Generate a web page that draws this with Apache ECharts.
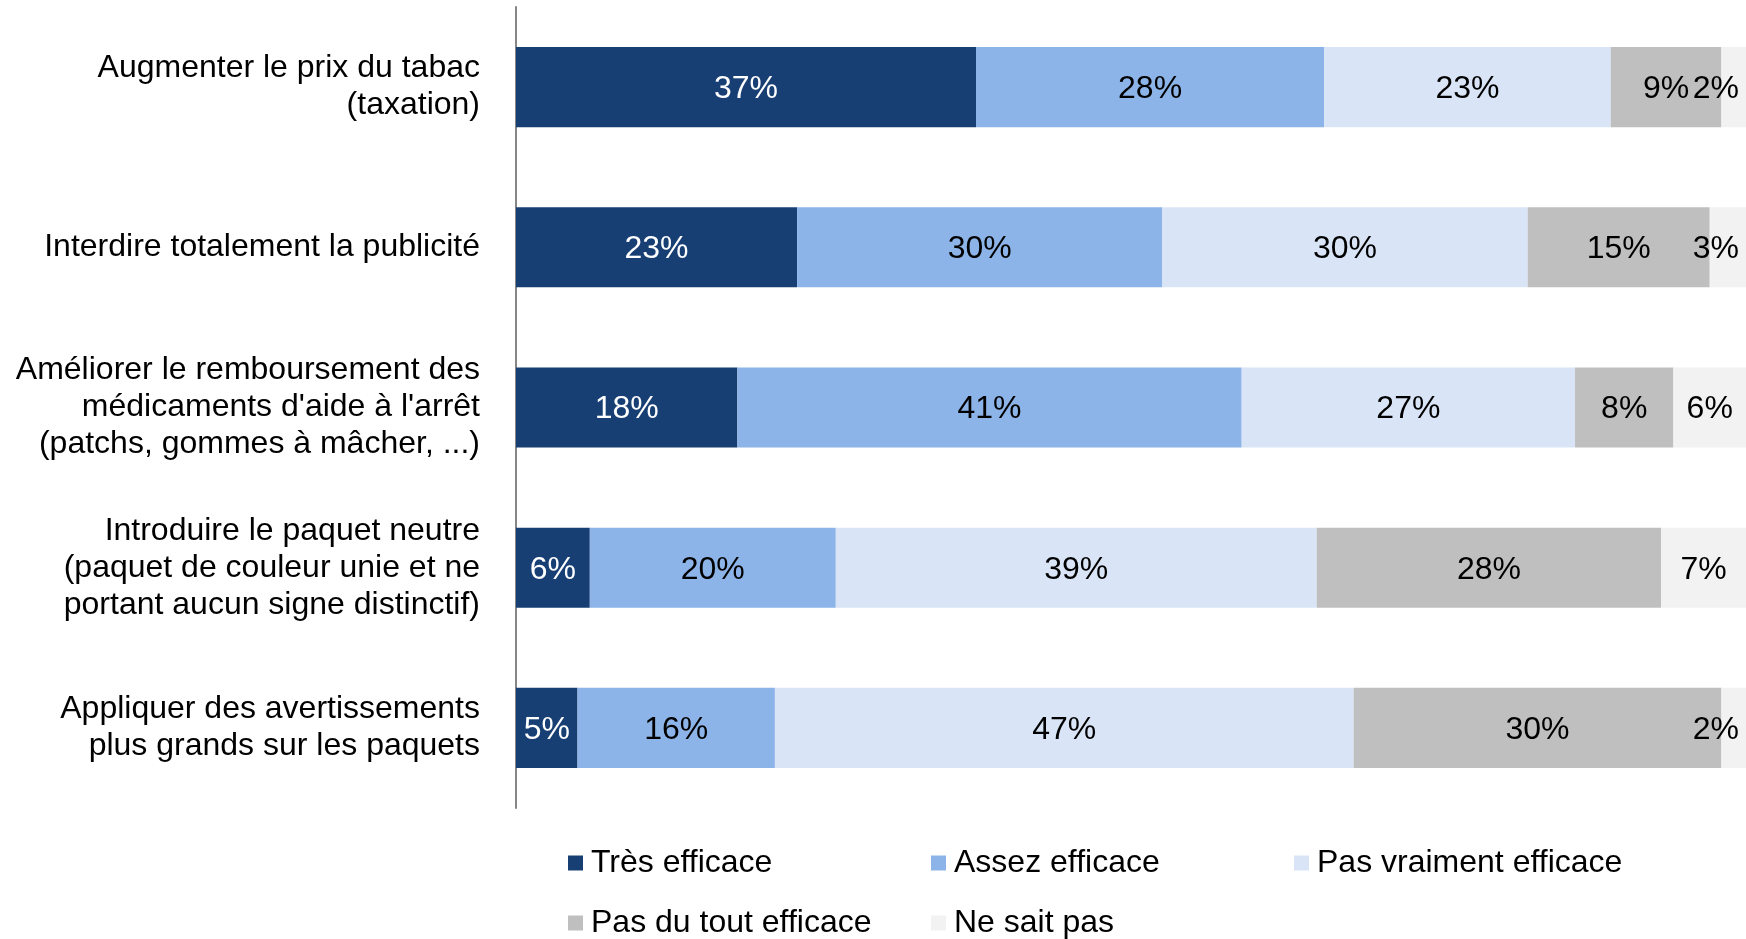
<!DOCTYPE html>
<html>
<head>
    <meta charset="utf-8">
    <title>Efficacité des mesures</title>
    <script src="https://cdn.jsdelivr.net/npm/echarts@6/dist/echarts.min.js"></script>
    <style>
        html, body { margin: 0; padding: 0; background: #fff; }
        #chart { width: 1746px; height: 939px; }
    </style>
</head>
<body>
<div id="chart"></div>
<script type="text/javascript">
    // categories (du haut vers le bas)
    var mesures = [
        'Augmenter le prix du tabac\n(taxation)',
        'Interdire totalement la publicité',
        'Améliorer le remboursement des\nmédicaments d\'aide à l\'arrêt\n(patchs, gommes à mâcher, ...)',
        'Introduire le paquet neutre\n(paquet de couleur unie et ne\nportant aucun signe distinctif)',
        'Appliquer des avertissements\nplus grands sur les paquets'
    ];

    // valeurs (%)
    var tresEfficace = [37.4, 22.85, 18.0, 6.0, 5.0];
    var assezEfficace = [28.3, 29.7, 41.0, 20.0, 16.05];
    var pasVraiment = [23.3, 29.7, 27.1, 39.1, 47.05];
    var pasDuTout = [9.0, 14.8, 8.0, 28.0, 29.9];
    var neSaitPas = [2.0, 2.95, 5.9, 6.9, 2.0];

    var noms = ['Très efficace', 'Assez efficace', 'Pas vraiment efficace', 'Pas du tout efficace', 'Ne sait pas'];
    var couleurs = ['#173f74', '#8db4e8', '#d9e5f6', '#bfbfbf', '#f2f2f2'];

    var police = 'Liberation Sans, Arial, sans-serif';

    function serie(nom, valeurs, couleur, couleurTexte) {
        return {
            name: nom,
            type: 'bar',
            stack: 'total',
            barWidth: '50%',
            itemStyle: { color: couleur },
            label: {
                show: true,
                position: 'inside',
                offset: [0, 2],
                color: couleurTexte,
                fontFamily: police,
                fontSize: 32,
                formatter: function (p) { return Math.round(p.value) + '%'; }
            },
            // les petites valeurs en bout de barre sont calées à droite
            data: valeurs.map(function (v) {
                if (v < 4) {
                    return { value: v, label: { position: 'insideRight', distance: 7 } };
                }
                return v;
            })
        };
    }

    // une légende par élément pour garder les colonnes alignées
    var colonnes = [568, 931, 1294, 568, 931];
    var lignes = [847, 847, 847, 907, 907];
    var legendes = noms.map(function (nom, i) {
        return {
            data: [nom],
            left: colonnes[i],
            top: lignes[i],
            padding: 0,
            itemWidth: 15,
            itemHeight: 15,
            icon: 'rect',
            textStyle: { fontFamily: police, fontSize: 32, color: '#000', padding: [0, 0, 0, 3] }
        };
    });

    var myChart = echarts.init(document.getElementById('chart'));
    myChart.setOption({
        animation: false,
        grid: { left: 516, right: 0, top: 7, bottom: 131 },
        xAxis: {
            type: 'value',
            min: 0,
            max: 100,
            show: false
        },
        yAxis: {
            type: 'category',
            inverse: true,
            data: mesures,
            axisLine: { show: true, lineStyle: { color: '#868686', width: 2 } },
            axisTick: { show: false },
            axisLabel: {
                margin: 36,
                color: '#000',
                fontFamily: police,
                fontSize: 32,
                lineHeight: 37,
                align: 'right'
            }
        },
        legend: legendes,
        series: [
            serie(noms[0], tresEfficace, couleurs[0], '#fff'),
            serie(noms[1], assezEfficace, couleurs[1], '#000'),
            serie(noms[2], pasVraiment, couleurs[2], '#000'),
            serie(noms[3], pasDuTout, couleurs[3], '#000'),
            serie(noms[4], neSaitPas, couleurs[4], '#000')
        ]
    });
</script>
</body>
</html>
